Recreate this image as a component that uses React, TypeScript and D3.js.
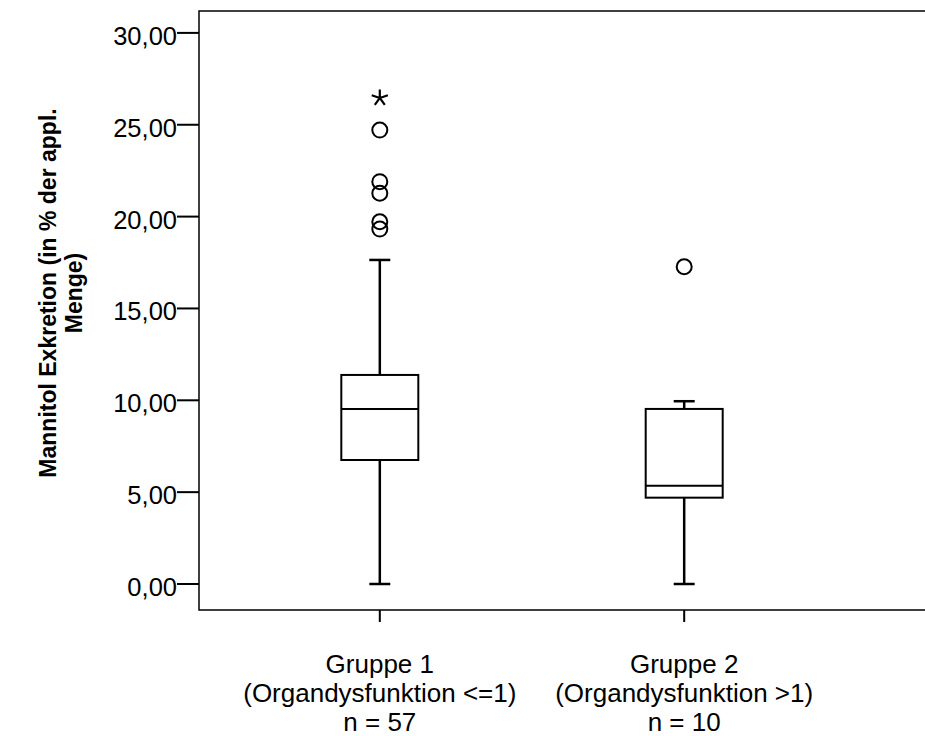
import React from "react";
import * as d3 from "d3";

const groups = ["g1", "g2"];
const groupLabels = [
  ["Gruppe 1", "(Organdysfunktion <=1)", "n = 57"],
  ["Gruppe 2", "(Organdysfunktion >1)", "n = 10"],
];
const whiskerLow = [0, 0];
const q1 = [6.75, 4.7];
const median = [9.53, 5.35];
const q3 = [11.38, 9.53];
const whiskerHigh = [17.64, 9.95];
const outliers1 = [24.71, 21.9, 21.27, 19.72, 19.32];
const outliers2 = [17.27];
const extremes1 = [26.46];
const extremes2: number[] = [];
const yTicks = [0, 5, 10, 15, 20, 25, 30];
const yTitle = ["Mannitol Exkretion (in % der appl.", "Menge)"];

const W = 925;
const H = 736;
const left = 199;
const top = 11;
const bottom = 610;

export default function App() {
  const y = d3.scaleLinear().domain([0, 30]).range([584, 32.9]);
  const x = d3.scalePoint<string>().domain(groups).range([left, 865]).padding(0.594);
  const fmt = (v: number) => v.toFixed(2).replace(".", ",");
  const outs = [outliers1, outliers2];
  const exts = [extremes1, extremes2];
  const starArms = d3.range(5).map((i) => (i * 2 * Math.PI) / 5);
  const font = "'Liberation Sans', Arial, sans-serif";
  return (
    <svg width={W} height={H} style={{ position: "absolute", left: 0, top: 0, background: "#fff" }} fontFamily={font}>
      <rect x={0} y={0} width={W} height={H} fill="#fff" />
      {/* frame */}
      <path d={`M${W + 5},${top}H${left}V${bottom}H${W + 5}`} fill="none" stroke="#000" strokeWidth={1.5} />
      {/* y ticks */}
      {yTicks.map((t) => (
        <g key={t}>
          <line x1={177} x2={left} y1={y(t)} y2={y(t)} stroke="#000" strokeWidth={2} />
          <text x={177} y={y(t) + 12} textAnchor="end" fontSize={25.5} fill="#000">
            {fmt(t)}
          </text>
        </g>
      ))}
      {/* y title */}
      {yTitle.map((line, i) => (
        <text
          key={i}
          transform={`translate(${56 + i * 26},${293}) rotate(-90)`}
          textAnchor="middle"
          fontSize={23}
          fontWeight="bold"
          fill="#000"
        >
          {line}
        </text>
      ))}
      {/* x ticks & labels */}
      {groups.map((g, i) => (
        <g key={g}>
          <line x1={x(g)} x2={x(g)} y1={bottom} y2={622} stroke="#000" strokeWidth={2} />
          {groupLabels[i].map((l, j) => (
            <text key={j} x={x(g)} y={673 + j * 29} textAnchor="middle" fontSize={26} fill="#000">
              {l}
            </text>
          ))}
        </g>
      ))}
      {/* boxes */}
      {groups.map((g, i) => {
        const cx = x(g) as number;
        const hw = 38.5;
        const cw = 10.5;
        return (
          <g key={g} stroke="#000" fill="none">
            <line x1={cx} x2={cx} y1={y(whiskerLow[i])} y2={y(q1[i])} strokeWidth={2.5} />
            <line x1={cx} x2={cx} y1={y(q3[i])} y2={y(whiskerHigh[i])} strokeWidth={2.5} />
            <line x1={cx - cw} x2={cx + cw} y1={y(whiskerLow[i])} y2={y(whiskerLow[i])} strokeWidth={2.5} />
            <line x1={cx - cw} x2={cx + cw} y1={y(whiskerHigh[i])} y2={y(whiskerHigh[i])} strokeWidth={2.5} />
            <rect x={cx - hw} y={y(q3[i])} width={hw * 2} height={y(q1[i]) - y(q3[i])} fill="#fff" strokeWidth={2} />
            <line x1={cx - hw} x2={cx + hw} y1={y(median[i])} y2={y(median[i])} strokeWidth={2} />
            {outs[i].map((v, k) => (
              <circle key={k} cx={cx} cy={y(v)} r={7.5} fill="none" strokeWidth={2} />
            ))}
            {exts[i].map((v, k) => (
              <path
                key={k}
                d={starArms.map((a) => `M${cx},${y(v)}l${8.5 * Math.sin(a)},${-8.5 * Math.cos(a)}`).join("")}
                strokeWidth={2.2}
              />
            ))}
          </g>
        );
      })}
    </svg>
  );
}
